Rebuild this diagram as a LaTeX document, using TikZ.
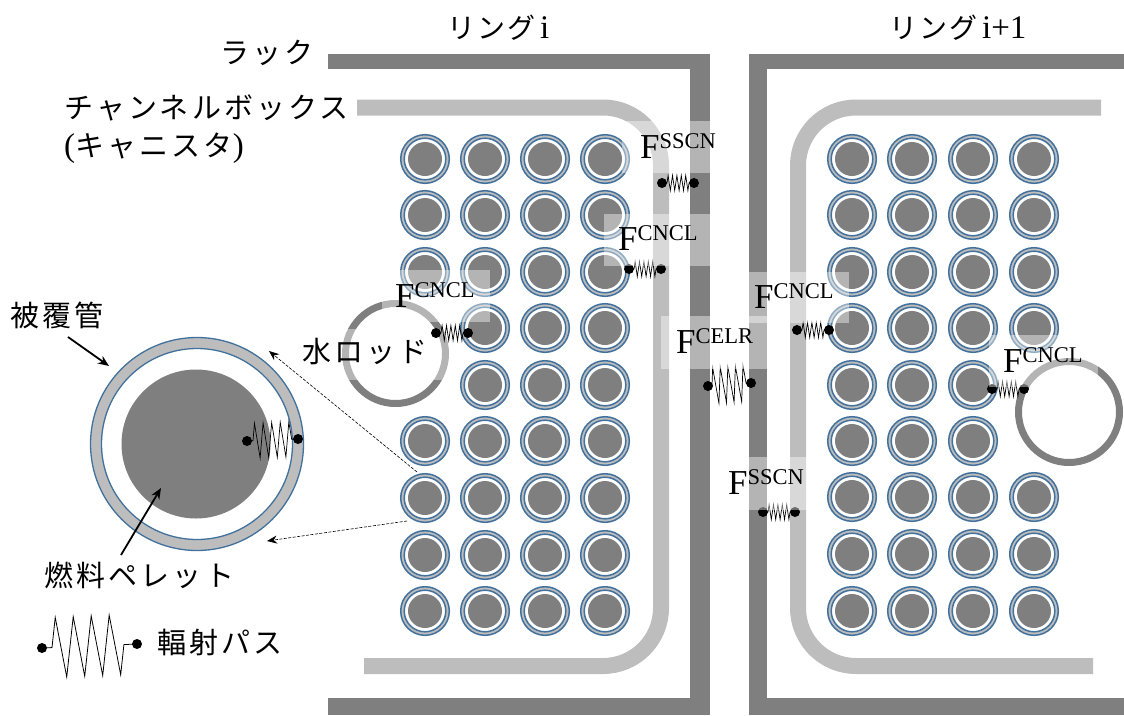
\documentclass[tikz,border=0pt]{standalone}
\usepackage{fontspec}
\setmainfont{Liberation Serif}
\newfontfamily\jpf[LetterSpace=7]{Noto Sans CJK JP}
\newfontfamily\jpw[LetterSpace=11]{Noto Sans CJK JP}
\usetikzlibrary{decorations.pathmorphing,arrows.meta}
\definecolor{darkg}{HTML}{7F7F7F}
\definecolor{lightg}{HTML}{BDBDBD}
\definecolor{rodblue}{HTML}{41719C}
\newcommand{\Flab}[1]{{\fontsize{35}{35}\selectfont F\raisebox{10pt}{\fontsize{22.5}{22.5}\selectfont #1}}}
\newcommand{\jring}[1]{{\fontsize{28}{28}\jpf #1}}
\newcommand{\jtext}[1]{{\fontsize{29}{29}\jpw #1}}
\newcommand{\ltext}[1]{{\fontsize{33}{33}\selectfont #1}}
\tikzset{
  rack/.style={fill=darkg,draw=none},
  chan/.style={draw=lightg,line width=16pt,rounded corners=58pt},
  water/.style={draw=darkg,line width=7pt,fill=white},
  hilite/.style={fill=white,fill opacity=.42,draw=none},
  dot/.style={circle,fill=black,inner sep=0pt,minimum size=10pt},
  zig/.style={draw=black,line width=.7pt,decorate,decoration={zigzag,amplitude=7.5pt,segment length=4.4pt,pre length=5pt,post length=5pt}},
  zigb/.style={draw=black,line width=.7pt,decorate,decoration={zigzag,amplitude=18pt,segment length=7.6pt,pre length=4pt,post length=4pt}},
  zigc/.style={draw=black,line width=.7pt,decorate,decoration={zigzag,amplitude=17.5pt,segment length=8.6pt,pre length=6pt,post length=5pt}},
  zigl/.style={draw=black,line width=.8pt,decorate,decoration={zigzag,amplitude=30pt,segment length=18pt,pre length=10pt,post length=10pt}},
  flab/.style={anchor=base west,inner sep=0pt},
  jlab/.style={anchor=west,inner sep=0pt},
  pointer/.style={line width=1.8pt,-{Stealth[length=11pt,width=9pt]}},
  dashptr/.style={line width=.6pt,dashed,dash pattern=on 3pt off 1.5pt,-{Stealth[length=10pt,width=8pt]}},
}
\newcommand{\fuelrod}[2]{%
  \fill[lightg,draw=rodblue,line width=1.5pt] (#1,#2) circle (24.3pt);
  \fill[white,draw=rodblue,line width=1.5pt] (#1,#2) circle (20.8pt);
  \fill[darkg] (#1,#2) circle (17pt);}
\begin{document}
\begin{tikzpicture}[x=1pt,y=-1pt]
\useasboundingbox (0,0) rectangle (1124,715);
% rack
\fill[rack] (328,54) rectangle (710,69);
\fill[rack] (690,54) rectangle (710,715);
\fill[rack] (328,698) rectangle (710,715);
\fill[rack] (749,54) rectangle (1124,69);
\fill[rack] (749,54) rectangle (767,715);
\fill[rack] (749,698) rectangle (1124,715);
% channel boxes
\draw[chan] (357,107.5) -- (661,107.5) -- (661,666) -- (364,666);
\draw[chan] (1101,107.5) -- (798,107.5) -- (798,666) -- (1093,666);
% rods, left
\foreach \y in {159,215,272,441,498,555,611}
  \foreach \x in {425,485,545,605} {\fuelrod{\x}{\y}}
\foreach \y in {328,385}
  \foreach \x in {485,545,605} {\fuelrod{\x}{\y}}
% rods, right
\foreach \y in {159,215,272,328,497,554,611}
  \foreach \x in {852,912,973,1034} {\fuelrod{\x}{\y}}
\foreach \y in {385,441}
  \foreach \x in {852,912,973} {\fuelrod{\x}{\y}}
% water rods
\draw[water] (395.5,353.5) circle (50pt);
\draw[water] (1069,412) circle (50.5pt);
% large rod
\fill[lightg,draw=rodblue,line width=1.3pt] (197,444) circle (106.5pt);
\fill[white,draw=rodblue,line width=1.3pt] (197,444) circle (95.5pt);
\fill[darkg] (196,444) circle (74.5pt);
% box under the water rod label lies below the paths
\fill[hilite] (300,329) rectangle (452,380);
% radiation paths
\node[dot] (s1a) at (662,183) {}; \node[dot] (s1b) at (694,183) {};
\node[dot] (s2a) at (629,269) {}; \node[dot] (s2b) at (661,269) {};
\node[dot] (s3a) at (436,333) {}; \node[dot] (s3b) at (468,333) {};
\node[dot] (s4a) at (797,330) {}; \node[dot] (s4b) at (829,330) {};
\node[dot] (s5a) at (763,512) {}; \node[dot] (s5b) at (795,512) {};
\node[dot] (s6a) at (992,389) {}; \node[dot] (s6b) at (1024,389) {};
\node[dot] (s7a) at (708,386) {}; \node[dot] (s7b) at (751,383) {};
\node[dot] (s8a) at (247,441) {}; \node[dot] (s8b) at (298,439) {};
\node[dot] (s9a) at (42,648) {}; \node[dot] (s9b) at (137,644) {};
\foreach \n in {1,2,3,4,5,6} {\draw[zig] (s\n a.center) -- (s\n b.center);}
\draw[zigb] (s7a.center) -- (s7b.center);
\draw[zigc] (s8a.center) -- (s8b.center);
\draw[zigl] (s9a.center) -- (s9b.center);
% highlight boxes
\fill[hilite] (622,121) rectangle (710,173);
\fill[hilite] (604,214) rectangle (710,266);
\fill[hilite] (382,270) rectangle (490,322);
\fill[hilite] (661,316) rectangle (767,369);
\fill[hilite] (749,272) rectangle (849,323);
\fill[hilite] (720,457) rectangle (808,510);
\fill[hilite] (989,335) rectangle (1098,387);
% labels
\node[flab] (f1) at (640,158) {\Flab{SSCN}};
\node[flab] (f2) at (618,250) {\Flab{CNCL}};
\node[flab] (f3) at (395,307) {\Flab{CNCL}};
\node[flab] (f4) at (676,353) {\Flab{CELR}};
\node[flab] (f5) at (754,308) {\Flab{CNCL}};
\node[flab] (f6) at (728,494) {\Flab{SSCN}};
\node[flab] (f7) at (1003,372) {\Flab{CNCL}};
\node[jlab] (t1) at (447,28) {\jring{リング}\hspace{5pt}\ltext{i}};
\node[jlab] (t2) at (889,28) {\jring{リング}\hspace{5pt}\ltext{i+1}};
\node[jlab] (t3) at (220,53) {\jtext{ラック}};
\node[jlab] (t4) at (64,108) {\jtext{チャンネルボックス}};
\node[jlab] (t5) at (64,148) {\ltext{(}\jtext{キャニスタ}\ltext{)}};
\node[jlab] (t6) at (10,315) {\jtext{被覆管}};
\node[jlab] (t7) at (302,352) {\jtext{水ロッド}};
\node[jlab] (t8) at (44,575) {\jtext{燃料ペレット}};
\node[jlab] (t9) at (157,642) {\jtext{輻射パス}};
% pointers
\coordinate (p1a) at (68,337); \coordinate (p1b) at (109,366);
\coordinate (p2a) at (121,555); \coordinate (p2b) at (161,488);
\coordinate (p3a) at (417,472); \coordinate (p3b) at (269,351);
\coordinate (p4a) at (407,521); \coordinate (p4b) at (267,541);
\draw[pointer] (p1a) -- (p1b);
\draw[pointer] (p2a) -- (p2b);
\draw[dashptr] (p3a) -- (p3b);
\draw[dashptr] (p4a) -- (p4b);
\end{tikzpicture}
\end{document}
